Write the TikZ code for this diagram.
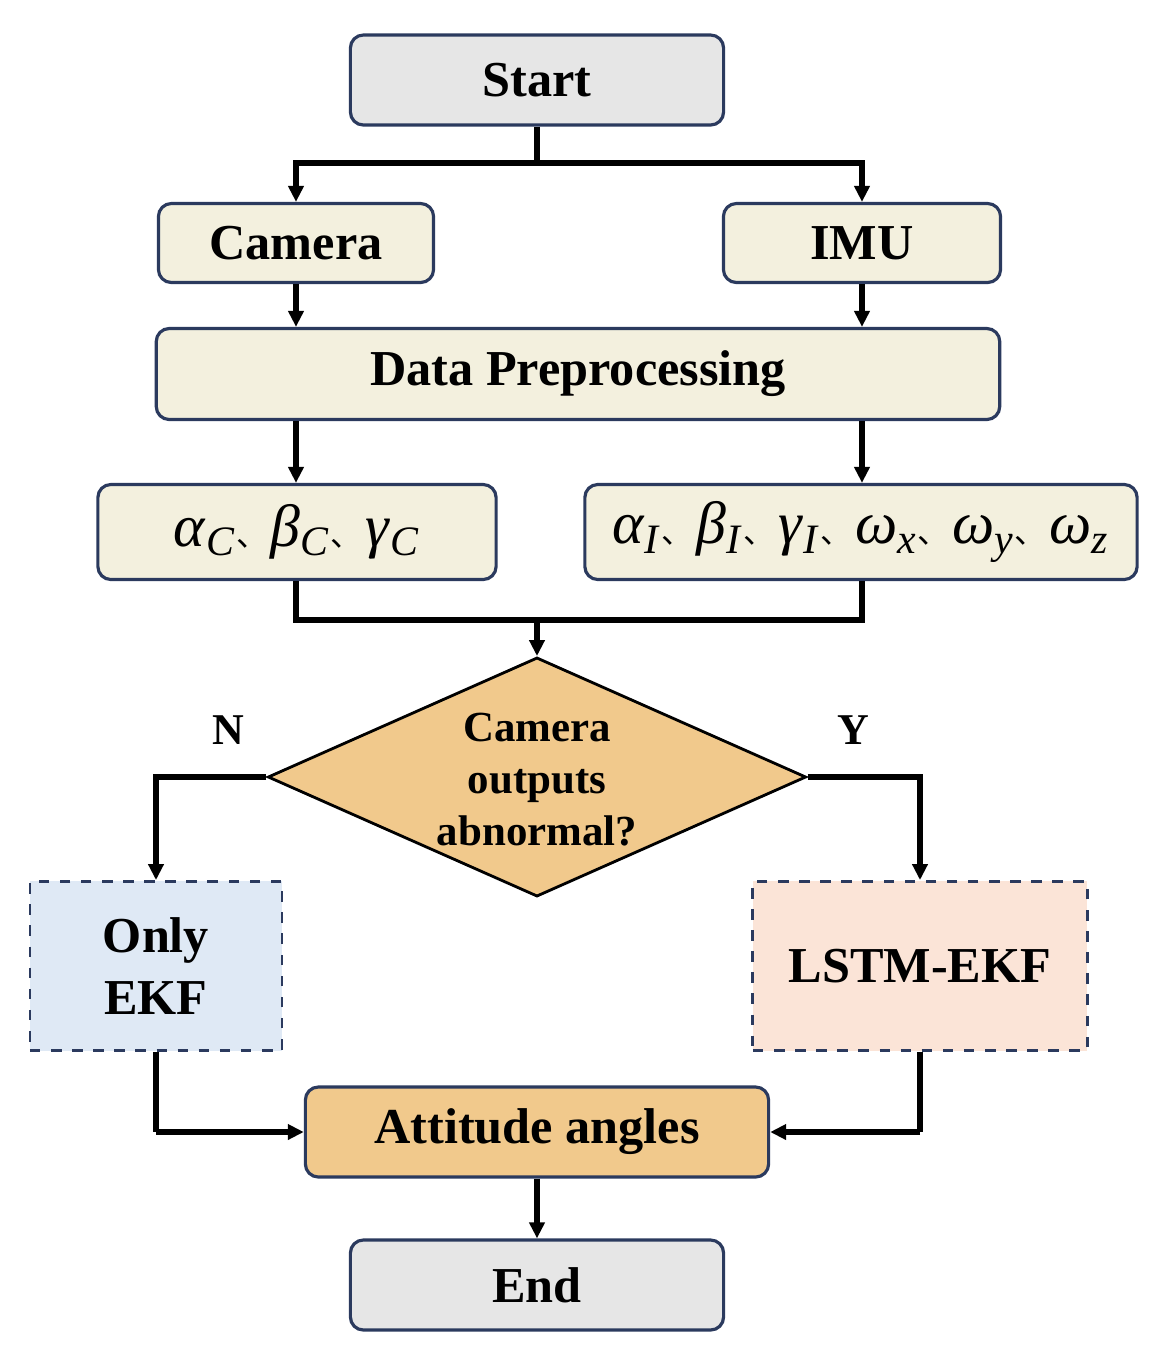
\documentclass[tikz,border=0pt]{standalone}
\usepackage{fontspec}
\setmainfont{Liberation Serif}
\newfontfamily\cjk{Noto Sans CJK SC}
\usetikzlibrary{arrows.meta,shapes.geometric}

\definecolor{navy}{HTML}{2B3A5E}
\definecolor{cream}{HTML}{F3F0DE}
\definecolor{greybox}{HTML}{E6E6E6}
\definecolor{tan}{HTML}{F1C98C}
\definecolor{paleblue}{HTML}{DFE9F5}
\definecolor{palepink}{HTML}{FBE4D7}

\newcommand{\gsub}[2]{\textit{#1}\textsubscript{\textit{#2}}}
\newcommand{\sep}{\makebox[0.58em][l]{\cjk\small 、}}

\begin{document}
\begin{tikzpicture}[x=0.01cm,y=-0.01cm,
    box/.style={draw=navy, line width=0.9pt, rounded corners=0.13cm, fill=cream,
      inner sep=0pt, font=\fontsize{14.3}{17}\selectfont\bfseries},
    dbox/.style={draw=navy, line width=0.8pt, dashed, inner sep=0pt, align=center,
      font=\fontsize{14.3}{17.5}\selectfont\bfseries},
    arr/.style={line width=1.5pt, -{Triangle[length=0.16cm,width=0.15cm]}},
    ln/.style={line width=1.5pt}]

  \useasboundingbox (0,0) rectangle (1160,1353);

  \begin{scope}[every node/.style={box}]
    \node[fill=greybox, minimum width=3.73cm, minimum height=0.9cm] (start) at (537,80) {Start};
    \node[minimum width=2.75cm, minimum height=0.79cm] (cam) at (296,243) {Camera};
    \node[minimum width=2.77cm, minimum height=0.79cm] (imu) at (862,243) {IMU};
    \node[minimum width=8.43cm, minimum height=0.91cm] (pre) at (578,374) {Data Preprocessing};
    \node[minimum width=3.98cm, minimum height=0.95cm, font=\fontsize{17}{20}\selectfont] (pc) at (297,532)
      {\gsub{α}{C}\sep\gsub{β}{C}\sep\gsub{γ}{C}};
    \node[minimum width=5.52cm, minimum height=0.95cm, font=\fontsize{17}{20}\selectfont] (pi) at (861,532)
      {\gsub{α}{I}\sep\gsub{β}{I}\sep\gsub{γ}{I}\sep\gsub{ω}{x}\sep\gsub{ω}{y}\sep\gsub{ω}{z}};
    \node[fill=tan, minimum width=4.63cm, minimum height=0.9cm] (att) at (537,1132) {Attitude angles};
    \node[fill=greybox, minimum width=3.73cm, minimum height=0.9cm] (end) at (537,1285) {End};
  \end{scope}

  \node[diamond, draw=black, line width=0.8pt, fill=tan, aspect=2.25, inner sep=0pt,
    minimum width=5.38cm, minimum height=2.39cm] (dia) at (537,777) {};
  \node[align=center, font=\fontsize{12.2}{14.8}\selectfont\bfseries] (q) at (537,780)
    {Camera\\outputs\\abnormal?};

  \node[dbox, fill=paleblue, minimum width=2.52cm, minimum height=1.69cm] (ekf) at (156,966) {Only\\EKF};
  \node[dbox, fill=palepink, minimum width=3.34cm, minimum height=1.69cm] (lstm) at (920,966) {LSTM-EKF};

  \node[font=\fontsize{12.5}{15}\selectfont\bfseries] (no) at (228,730) {N};
  \node[font=\fontsize{12.5}{15}\selectfont\bfseries] (yes) at (853,730) {Y};

  \coordinate (split) at (537,163);
  \coordinate (merge) at (537,620);
  \coordinate (jl) at (156,1132);
  \coordinate (jr) at (920,1132);

  \draw[ln] (start) -- (split);
  \draw[arr] (split) -| (cam);
  \draw[arr] (split) -| (imu);
  \draw[arr] (cam) -- (cam |- pre.north);
  \draw[arr] (imu) -- (imu |- pre.north);
  \draw[arr] (pre.south -| cam) -- (pc.north -| cam);
  \draw[arr] (pre.south -| imu) -- (pi.north -| imu);
  \draw[ln] (pc.south -| cam) |- (merge) -| (pi.south -| imu);
  \draw[arr] (merge) -- (dia.north);
  \draw[arr] (dia.west) -| (ekf);
  \draw[arr] (dia.east) -| (lstm);
  \draw[ln] (ekf) -- (jl);
  \draw[arr] (jl) -- (att);
  \draw[ln] (lstm) -- (jr);
  \draw[arr] (jr) -- (att);
  \draw[arr] (att) -- (end);

\end{tikzpicture}
\end{document}
